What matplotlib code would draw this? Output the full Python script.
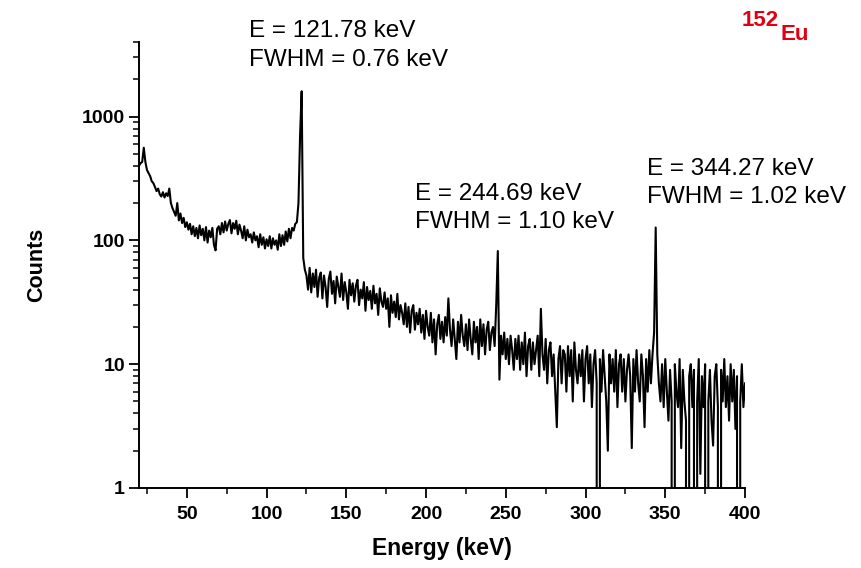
import numpy as np
import matplotlib.pyplot as plt
from matplotlib.ticker import LogLocator, FixedLocator, MultipleLocator, FuncFormatter

plt.rcParams['font.family'] = ['Liberation Sans', 'DejaVu Sans']

# widmo 152Eu, kanaly co 1 keV (20..400 keV), wartosci
energy_start = 20
counts = [
    400, 420, 430, 560, 430, 370, 350, 330, 300, 290,           # 20-29
    270, 250, 262, 236, 226, 245, 222, 240, 228, 262,           # 30-39
    200, 182, 170, 158, 200, 145, 165, 138, 152, 128,           # 40-49
    140, 122, 136, 112, 130, 108, 126, 104, 132, 110,           # 50-59
    124, 100, 128, 96, 120, 106, 126, 92, 83, 124,              # 60-69
    130, 112, 138, 116, 142, 120, 136, 146, 114, 138,           # 70-79
    124, 144, 112, 134, 120, 104, 130, 100, 122, 106,           # 80-89
    112, 96, 116, 100, 108, 88, 112, 92, 106, 86,               # 90-99
    102, 90, 108, 86, 104, 92, 100, 84, 112, 90,                # 100-109
    110, 92, 118, 98, 124, 104, 126, 120, 136, 140,             # 110-119
    200, 700, 1600, 72, 58,                                     # 120-124
    52, 40, 60, 38, 54, 42, 58, 35, 50, 55,                     # 125-134
    34, 52, 42, 29, 49, 56, 37, 47, 31, 51,                     # 135-144
    42, 35, 54, 33, 46, 38, 28, 48, 36, 45,                     # 145-154
    32, 43, 48, 30, 40, 34, 46, 27, 42, 33,                     # 155-164
    39, 28, 43, 31, 37, 25, 41, 32, 29, 38,                     # 165-174
    28, 34, 20, 36, 26, 32, 24, 37, 23, 30,                     # 175-184
    26, 21, 31, 20, 29, 18, 27, 30, 19, 26,                     # 185-194
    21, 28, 18, 25, 16, 27, 20, 17, 26, 15,                     # 195-204
    23, 12, 21, 25, 16, 22, 15, 24, 17, 34,                     # 205-214
    19, 14, 23, 16, 11, 22, 15, 25, 17, 14,                     # 215-224
    21, 13, 23, 16, 12, 22, 15, 20, 11, 23,                     # 225-234
    14, 21, 12, 19, 22, 13, 18, 20, 14, 30,                     # 235-244
    82, 7.5,                                                    # 245-246
    17, 12, 18, 11, 16, 10, 17, 13, 9, 16,                      # 247-256
    11, 17, 9, 15, 10, 18, 8, 14, 16, 9,                        # 257-266
    15, 10, 13, 17, 8, 28, 12, 9, 16, 7,                        # 267-276
    13, 15, 8, 12, 6, 3.1, 11, 14, 7, 13,                       # 277-286
    12, 6, 14, 8, 13, 5, 15, 9, 7, 12,                          # 287-296
    8, 13, 5, 11, 14, 7, 12, 4.5, 10, 13,                       # 297-306
    7, 0, 11, 6, 13, 8, 5, 2, 12, 7,                            # 307-316
    11, 6, 13, 4.5, 10, 12, 6, 11, 5, 9,                        # 317-326
    12, 8, 2.1, 11, 6, 13, 7, 5, 12, 8,                         # 327-336
    3.1, 11, 6, 13, 7, 12, 18, 127, 12, 7,                      # 337-346
    5, 10, 4.5, 11, 6, 3.5, 9, 5, 0, 10,                        # 347-356
    6, 4.5, 11, 2.1, 9, 5, 3.5, 0, 8, 10,                       # 357-366
    4.5, 9, 0, 5, 11, 1.3, 8, 4.5, 10, 0,                       # 367-376
    5, 9, 3.5, 2.2, 8, 10, 4.5, 0, 9, 5,                        # 377-386
    11, 4.5, 8, 3.5, 10, 5, 9, 3, 8, 0,                         # 387-396
    5, 10, 4.5, 7,                                              # 397-400
]
energy = np.arange(len(counts)) + energy_start

# opisy pikow: (tekst, x px, linia bazowa px)
peak_lines = [
    ("E = 121.78 keV", 249, 37), ("FWHM = 0.76 keV", 249, 66),
    ("E = 244.69 keV", 415, 200), ("FWHM = 1.10 keV", 415, 228),
    ("E = 344.27 keV", 647, 175), ("FWHM = 1.02 keV", 647, 203),
]

W, H = 861, 568
fig = plt.figure(figsize=(W / 100, H / 100), dpi=100)
ax = fig.add_axes([139 / W, 1 - 488 / H, (745 - 139) / W, (488 - 42) / H])

ax.plot(energy, counts, color='black', linewidth=1.5)
ax.set_yscale('log')
ax.set_xlim(20, 400)
ax.set_ylim(1, 4000)

ax.xaxis.set_major_locator(FixedLocator([50, 100, 150, 200, 250, 300, 350, 400]))
ax.xaxis.set_minor_locator(MultipleLocator(25))
ax.yaxis.set_major_locator(FixedLocator([1, 10, 100, 1000]))
ax.yaxis.set_minor_locator(LogLocator(base=10, subs=np.arange(2, 10)))
ax.yaxis.set_major_formatter(FuncFormatter(lambda v, p: f"{int(v)}"))
ax.yaxis.set_minor_formatter(FuncFormatter(lambda v, p: ""))

for s in ['top', 'right']:
    ax.spines[s].set_visible(False)
for s in ['left', 'bottom']:
    ax.spines[s].set_linewidth(1.4)

ax.tick_params(which='major', direction='out', length=7, width=1.3, labelsize=14)
ax.tick_params(which='minor', direction='out', length=4, width=1.1)
ax.tick_params(axis='x', which='major', pad=6)
ax.tick_params(axis='y', which='major', pad=3)
for lab in ax.get_xticklabels() + ax.get_yticklabels():
    lab.set_fontweight('bold')

ax.set_xlabel("Energy (keV)", fontsize=16.5, fontweight='bold', labelpad=10)
ax.set_ylabel("Counts", fontsize=15.5, fontweight='bold', labelpad=25)

for txt, px, py in peak_lines:
    fig.text(px / W, 1 - py / H, txt, fontsize=17.5, ha='left', va='baseline')

fig.text(742 / W, 1 - 26 / H, "152", color='#e0000f', fontsize=16,
         fontweight='bold', ha='left', va='baseline')
fig.text(781 / W, 1 - 40 / H, "Eu", color='#e0000f', fontsize=16,
         fontweight='bold', ha='left', va='baseline')

fig.savefig('out.png', dpi=100)
